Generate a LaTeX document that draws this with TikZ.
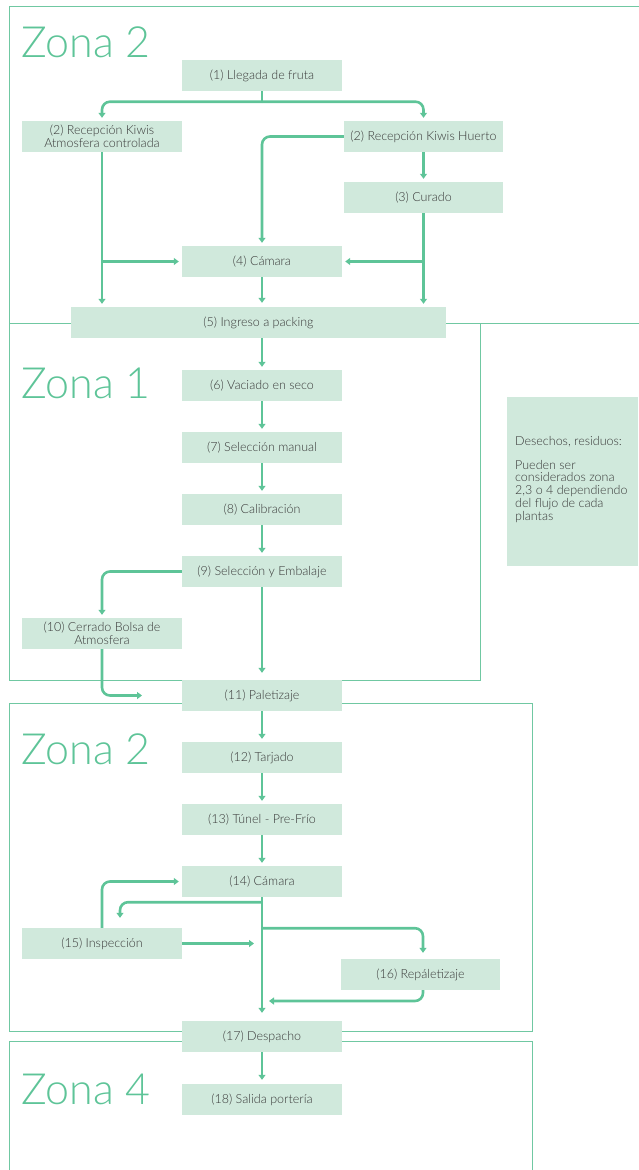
\documentclass[tikz,border=0pt]{standalone}
\usepackage{fontspec}
\setmainfont{Lato Light}
\usetikzlibrary{arrows.meta}
\definecolor{lg}{RGB}{94,196,152}
\definecolor{lf}{RGB}{208,233,220}
\definecolor{lt}{RGB}{55,55,55}
\definecolor{lb}{RGB}{112,200,162}
\tikzset{
  box/.style={fill=lf, minimum width=160pt, minimum height=31pt, inner sep=2pt, align=center, text=lt, font=\fontsize{12.5}{13}\selectfont},
  zone/.style={draw=lb, line width=1pt},
  zlabel/.style={anchor=base west, text=lg, inner sep=0pt, font=\fontsize{43}{43}\selectfont},
  flow/.style={draw=lg, line width=2.6pt, rounded corners=8pt, -{Triangle[length=5pt,width=7pt]}, shorten >=3pt},
  line/.style={draw=lg, line width=2.6pt}
}
\begin{document}
\begin{tikzpicture}[x=1pt,y=-1pt]
\useasboundingbox (0,0) rectangle (638,1170);
% zones
\draw[zone] (9,6) rectangle (645,323);
\draw[zone] (9,323) rectangle (480,680);
\draw[zone] (9,703) rectangle (532,1031);
\draw[zone] (9,1041) rectangle (532,1180);
\node[zlabel] (z2a) at (21,57) {Zona 2};
\node[zlabel] (z1) at (21,398) {Zona 1};
\node[zlabel] (z2b) at (21,764) {Zona 2};
\node[zlabel] (z4) at (21,1104) {Zona 4};
% boxes
\node[box] (n1) at (262,75.5) {(1) Llegada de fruta};
\node[box] (n2a) at (102,136.5) {(2) Recepción Kiwis\\Atmosfera controlada};
\node[box, minimum width=159pt] (n2b) at (423.5,136.5) {(2) Recepción Kiwis Huerto};
\node[box, minimum width=159pt] (n3) at (423.5,197.5) {(3) Curado};
\node[box] (n4) at (262,261.5) {(4) Cámara};
\node[box, minimum width=375pt] (n5) at (258.5,322.5) {(5) Ingreso a packing};
\node[box] (n6) at (262,385.5) {(6) Vaciado en seco};
\node[box] (n7) at (262,447.5) {(7) Selección manual};
\node[box] (n8) at (262,509.5) {(8) Calibración};
\node[box] (n9) at (262,571.5) {(9) Selección y Embalaje};
\node[box] (n10) at (102,633.5) {(10) Cerrado Bolsa de\\Atmosfera};
\node[box] (n11) at (262,695.5) {(11) Paletizaje};
\node[box] (n12) at (262,757.5) {(12) Tarjado};
\node[box] (n13) at (262,819.5) {(13) Túnel - Pre-Frío};
\node[box] (n14) at (262,881.5) {(14) Cámara};
\node[box] (n15) at (102,943.5) {(15) Inspección};
\node[box, minimum width=159pt] (n16) at (420.5,974.5) {(16) Repáletizaje};
\node[box] (n17) at (262,1036.5) {(17) Despacho};
\node[box] (n18) at (262,1099.5) {(18) Salida portería};
\node[box, minimum width=131pt, minimum height=169pt] (nd) at (572.5,481.5) {};
\node[anchor=north west, inner sep=0pt, text=lt, align=left, font=\fontsize{12.5}{12.8}\selectfont] (ndt) at (515,436) {Desechos, residuos:\\[11pt]Pueden ser\\considerados zona\\2,3 o 4 dependiendo\\del flujo de cada\\plantas};
% free ends
\coordinate (c10) at (142,695.5);
\coordinate (c15) at (254,943.5);
\coordinate (c16) at (269,1001);
% connectors
\draw[line] (n1.south) -- ([yshift=-10.5pt]n1.south);
\draw[flow] ([yshift=-10.5pt]n1.south) -| (n2a.north);
\draw[flow] ([yshift=-10.5pt]n1.south) -| (n2b.north);
\draw[flow] (n2b.west) -| (n4.north);
\draw[flow] (n2b.south) -- (n3.north);
\draw[flow] (n2a.south) -- (n2a.south |- n5.north);
\draw[flow] (n2a.south |- n4.west) -- (n4.west);
\draw[flow] (n3.south) -- (n3.south |- n5.north);
\draw[flow] (n3.south |- n4.east) -- (n4.east);
\draw[flow, shorten >=4pt] (n4.south) -- (n4.south |- n5.north);
\draw[flow] (n5.south -| n6.north) -- (n6.north);
\draw[flow] (n6) -- (n7);
\draw[flow] (n7) -- (n8);
\draw[flow] (n8) -- (n9);
\draw[flow] (n9.west) -| (n10.north);
\draw[flow, shorten >=7pt] (n9) -- (n11);
\draw[flow, shorten >=0pt] (n10.south) |- (c10);
\draw[flow] (n11) -- (n12);
\draw[flow] (n12) -- (n13);
\draw[flow] (n13) -- (n14);
\draw[flow, shorten >=8pt] (n14.south) -- (n17.north);
\draw[flow, shorten >=10pt] ([yshift=-5pt]n14.south) -| ([xshift=18pt]n15.north);
\draw[flow, shorten >=6pt] ([yshift=-31pt]n14.south) -| ([xshift=2.5pt]n16.north);
\draw[flow, shorten >=0pt] (n15.east) -- (c15);
\draw[flow] (n15.north) |- (n14.west);
\draw[flow, shorten >=0pt] ([xshift=2.5pt]n16.south) |- (c16);
\draw[flow, shorten >=4pt] (n17) -- (n18);
\end{tikzpicture}
\end{document}
